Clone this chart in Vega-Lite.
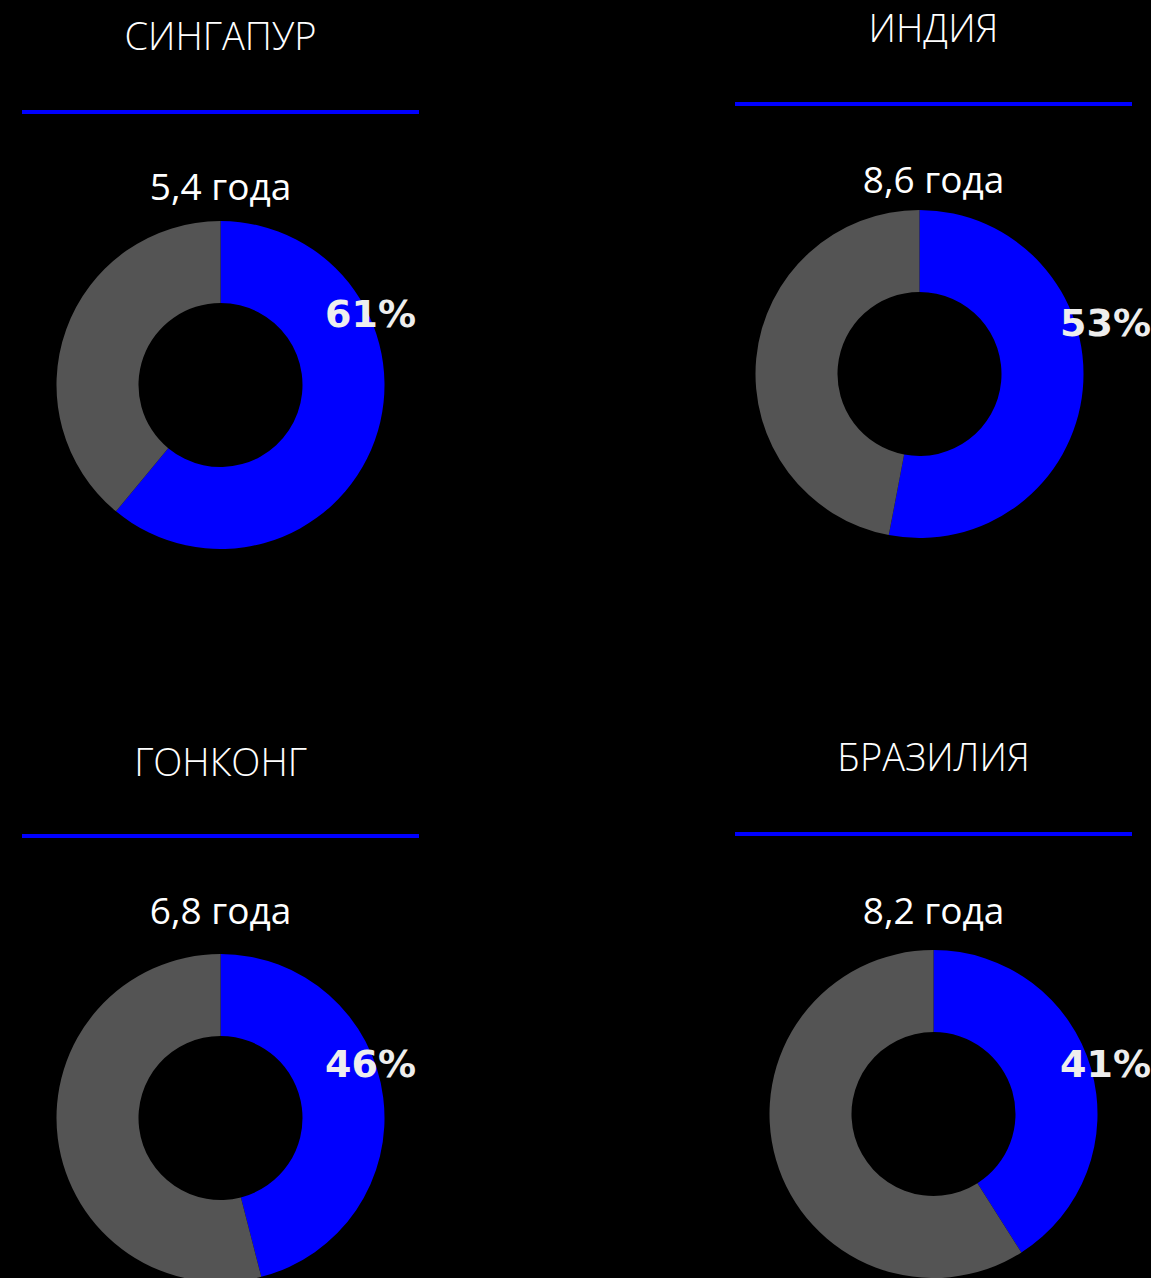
{
  "$schema": "https://vega.github.io/schema/vega-lite/v6.json",
  "background": "#000000",
  "padding": {"left": 20, "top": 12, "right": 0, "bottom": 0},
  "bounds": "flush",
  "columns": 2,
  "spacing": {"row": 172, "column": 316},
  "config": {
    "view": {"stroke": null},
    "title": {"color": "#ffffff", "font": "Open Sans", "fontSize": 38, "fontWeight": 300, "anchor": "middle", "offset": 52, "baseline": "alphabetic"}
  },
  "concat": [
    {
      "width": 397, "height": 552,
      "title": {"text": "СИНГАПУР", "offset": 52},
      "data": {"values": [
        {"segment": "share", "value": 61, "label": "61%", "years": "5,4 года"},
        {"segment": "rest", "value": 39, "label": "", "years": "5,4 года"}
      ]},
      "layer": [
        {"mark": {"type": "arc", "radius": 164, "innerRadius": 82, "y": 273},
         "encoding": {
           "theta": {"field": "value", "type": "quantitative", "stack": true},
           "color": {"field": "segment", "type": "nominal", "scale": {"domain": ["share", "rest"], "range": ["#0000ff", "#545454"]}, "legend": null},
           "order": {"field": "segment", "sort": "descending"}
         }},
        {"mark": {"type": "rule", "color": "#0000ff", "strokeWidth": 4},
         "encoding": {"x": {"value": 0}, "x2": {"value": "width"}, "y": {"value": 0}}},
        {"transform": [{"filter": "datum.segment === 'share'"}],
         "mark": {"type": "text", "x": 198.5, "y": 77, "font": "Open Sans", "fontSize": 37, "color": "#ffffff", "align": "center", "baseline": "middle"},
         "encoding": {"text": {"field": "years"}}},
        {"transform": [{"filter": "datum.segment === 'share'"}],
         "mark": {"type": "text", "x": 198.5, "y": 273, "dx": 150, "dy": -69, "align": "center", "baseline": "middle", "font": "DejaVu Sans", "fontWeight": "bold", "fontSize": 38, "color": "#eeeeee"},
         "encoding": {"text": {"field": "label"}}}
      ]
    },
    {
      "width": 397, "height": 552,
      "title": {"text": "ИНДИЯ", "offset": 52},
      "data": {"values": [
        {"segment": "share", "value": 53, "label": "53%", "years": "8,6 года"},
        {"segment": "rest", "value": 47, "label": "", "years": "8,6 года"}
      ]},
      "layer": [
        {"mark": {"type": "arc", "radius": 164, "innerRadius": 82, "x": 184.5, "y": 262},
         "encoding": {
           "theta": {"field": "value", "type": "quantitative", "stack": true},
           "color": {"field": "segment", "type": "nominal", "scale": {"domain": ["share", "rest"], "range": ["#0000ff", "#545454"]}, "legend": null},
           "order": {"field": "segment", "sort": "descending"}
         }},
        {"mark": {"type": "rule", "color": "#0000ff", "strokeWidth": 4},
         "encoding": {"x": {"value": 0}, "x2": {"value": "width"}, "y": {"value": -8}}},
        {"transform": [{"filter": "datum.segment === 'share'"}],
         "mark": {"type": "text", "x": 198.5, "y": 70, "font": "Open Sans", "fontSize": 37, "color": "#ffffff", "align": "center", "baseline": "middle"},
         "encoding": {"text": {"field": "years"}}},
        {"transform": [{"filter": "datum.segment === 'share'"}],
         "mark": {"type": "text", "x": 184.5, "y": 262, "dx": 186, "dy": -49, "align": "center", "baseline": "middle", "font": "DejaVu Sans", "fontWeight": "bold", "fontSize": 38, "color": "#eeeeee"},
         "encoding": {"text": {"field": "label"}}}
      ]
    },
    {
      "width": 397, "height": 552,
      "title": {"text": "ГОНКОНГ", "offset": 50},
      "data": {"values": [
        {"segment": "share", "value": 46, "label": "46%", "years": "6,8 года"},
        {"segment": "rest", "value": 54, "label": "", "years": "6,8 года"}
      ]},
      "layer": [
        {"mark": {"type": "arc", "radius": 164, "innerRadius": 82, "y": 282},
         "encoding": {
           "theta": {"field": "value", "type": "quantitative", "stack": true},
           "color": {"field": "segment", "type": "nominal", "scale": {"domain": ["share", "rest"], "range": ["#0000ff", "#545454"]}, "legend": null},
           "order": {"field": "segment", "sort": "descending"}
         }},
        {"mark": {"type": "rule", "color": "#0000ff", "strokeWidth": 4},
         "encoding": {"x": {"value": 0}, "x2": {"value": "width"}, "y": {"value": 0}}},
        {"transform": [{"filter": "datum.segment === 'share'"}],
         "mark": {"type": "text", "x": 198.5, "y": 77, "font": "Open Sans", "fontSize": 37, "color": "#ffffff", "align": "center", "baseline": "middle"},
         "encoding": {"text": {"field": "years"}}},
        {"transform": [{"filter": "datum.segment === 'share'"}],
         "mark": {"type": "text", "x": 198.5, "y": 282, "dx": 150, "dy": -52, "align": "center", "baseline": "middle", "font": "DejaVu Sans", "fontWeight": "bold", "fontSize": 38, "color": "#eeeeee"},
         "encoding": {"text": {"field": "label"}}}
      ]
    },
    {
      "width": 397, "height": 552,
      "title": {"text": "БРАЗИЛИЯ", "offset": 53},
      "data": {"values": [
        {"segment": "share", "value": 41, "label": "41%", "years": "8,2 года"},
        {"segment": "rest", "value": 59, "label": "", "years": "8,2 года"}
      ]},
      "layer": [
        {"mark": {"type": "arc", "radius": 164, "innerRadius": 82, "y": 278},
         "encoding": {
           "theta": {"field": "value", "type": "quantitative", "stack": true},
           "color": {"field": "segment", "type": "nominal", "scale": {"domain": ["share", "rest"], "range": ["#0000ff", "#545454"]}, "legend": null},
           "order": {"field": "segment", "sort": "descending"}
         }},
        {"mark": {"type": "rule", "color": "#0000ff", "strokeWidth": 4},
         "encoding": {"x": {"value": 0}, "x2": {"value": "width"}, "y": {"value": -2}}},
        {"transform": [{"filter": "datum.segment === 'share'"}],
         "mark": {"type": "text", "x": 198.5, "y": 77, "font": "Open Sans", "fontSize": 37, "color": "#ffffff", "align": "center", "baseline": "middle"},
         "encoding": {"text": {"field": "years"}}},
        {"transform": [{"filter": "datum.segment === 'share'"}],
         "mark": {"type": "text", "x": 198.5, "y": 278, "dx": 172, "dy": -48, "align": "center", "baseline": "middle", "font": "DejaVu Sans", "fontWeight": "bold", "fontSize": 38, "color": "#eeeeee"},
         "encoding": {"text": {"field": "label"}}}
      ]
    }
  ]
}
